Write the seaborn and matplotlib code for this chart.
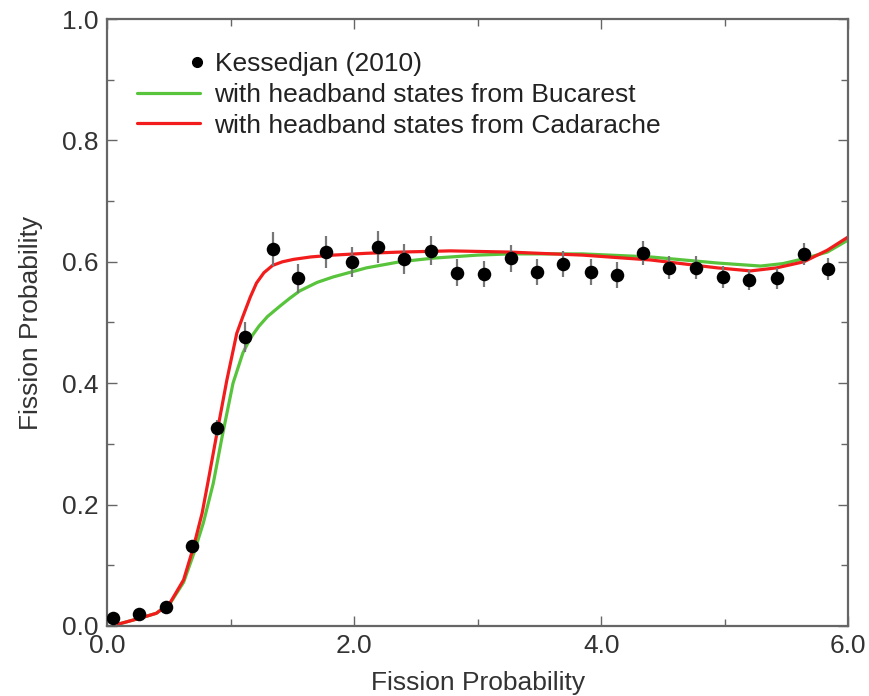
import numpy as np
import pandas as pd
import seaborn as sns
from matplotlib import pyplot as plt
from matplotlib.lines import Line2D
from matplotlib.legend_handler import HandlerLine2DCompound
from matplotlib.ticker import MultipleLocator, FormatStrFormatter

# Kessedjan (2010) measurements
x_exp = [0.05, 0.26, 0.48, 0.69, 0.89, 1.12, 1.34, 1.55, 1.77, 1.98, 2.19, 2.40, 2.62, 2.83,
         3.05, 3.27, 3.48, 3.69, 3.92, 4.13, 4.34, 4.55, 4.77, 4.99, 5.20, 5.42, 5.64, 5.84]
y_exp = [0.013, 0.020, 0.031, 0.131, 0.326, 0.476, 0.621, 0.573, 0.616, 0.600, 0.624, 0.605, 0.618, 0.582,
         0.580, 0.606, 0.583, 0.596, 0.583, 0.578, 0.614, 0.590, 0.590, 0.575, 0.570, 0.573, 0.613, 0.588]
err_exp = [0.004, 0.005, 0.006, 0.008, 0.013, 0.025, 0.028, 0.024, 0.027, 0.025, 0.026, 0.025, 0.024, 0.022,
           0.022, 0.022, 0.021, 0.021, 0.021, 0.021, 0.020, 0.019, 0.019, 0.018, 0.017, 0.017, 0.018, 0.018]

# calculation with headband states from Bucarest
x_buc = [0.09, 0.27, 0.40, 0.51, 0.62, 0.70, 0.78, 0.86, 0.93, 1.02, 1.10, 1.16, 1.23, 1.30, 1.40, 1.48,
         1.56, 1.70, 1.83, 2.10, 2.37, 2.64, 3.00, 3.26, 3.85, 4.40, 4.94, 5.29, 5.47, 5.64, 5.83, 6.00]
y_buc = [0.003, 0.013, 0.021, 0.037, 0.072, 0.118, 0.170, 0.235, 0.310, 0.400, 0.450, 0.474, 0.494, 0.510,
         0.527, 0.540, 0.552, 0.566, 0.575, 0.590, 0.600, 0.606, 0.611, 0.613, 0.613, 0.608, 0.598, 0.593,
         0.597, 0.605, 0.616, 0.636]

# calculation with headband states from Cadarache
x_cad = [0.09, 0.27, 0.40, 0.51, 0.62, 0.70, 0.77, 0.82, 0.89, 0.97, 1.05, 1.10, 1.16, 1.21, 1.27, 1.34,
         1.42, 1.51, 1.65, 1.83, 2.10, 2.37, 2.78, 3.26, 3.85, 4.40, 4.94, 5.21, 5.42, 5.64, 5.83, 6.00]
y_cad = [0.003, 0.013, 0.021, 0.038, 0.076, 0.130, 0.186, 0.240, 0.318, 0.405, 0.482, 0.510, 0.542, 0.565,
         0.582, 0.594, 0.600, 0.604, 0.608, 0.611, 0.614, 0.616, 0.618, 0.616, 0.611, 0.603, 0.590, 0.585,
         0.590, 0.600, 0.619, 0.641]

GREEN = "#58c43c"
RED = "#f21c1c"
FONT = 19

sns.set_style("ticks")
plt.rcParams["font.family"] = ["Liberation Sans", "DejaVu Sans"]

fig = plt.figure(figsize=(8.7, 6.96), dpi=100)
ax = fig.add_axes([0.123, 0.1006, 0.852, 0.8721])

sns.lineplot(x=x_buc, y=y_buc, color=GREEN, lw=2.3, sort=False, estimator=None, ax=ax, zorder=2)
sns.lineplot(x=x_cad, y=y_cad, color=RED, lw=2.3, sort=False, estimator=None, ax=ax, zorder=2)
ax.errorbar(x_exp, y_exp, yerr=err_exp, fmt="none", ecolor="#777777", elinewidth=1.6, capsize=0, zorder=3)
sns.scatterplot(x=x_exp, y=y_exp, color="black", s=95, edgecolor="black", linewidth=0, ax=ax, zorder=4)

ax.set_xlim(0, 6)
ax.set_ylim(0, 1)
ax.xaxis.set_major_locator(MultipleLocator(2))
ax.xaxis.set_minor_locator(MultipleLocator(1))
ax.yaxis.set_major_locator(MultipleLocator(0.2))
ax.yaxis.set_minor_locator(MultipleLocator(0.1))
ax.xaxis.set_major_formatter(FormatStrFormatter("%.1f"))
ax.yaxis.set_major_formatter(FormatStrFormatter("%.1f"))
ax.tick_params(which="both", direction="in", top=True, right=True, colors="#666666",
               labelcolor="#333333", labelsize=FONT, width=1.0)
ax.tick_params(which="major", length=7, pad=6)
ax.tick_params(which="minor", length=5)
for sp in ax.spines.values():
    sp.set_color("#666666")
    sp.set_linewidth(1.6)

ax.set_xlabel("Fission Probability", fontsize=FONT, color="#333333", labelpad=9)
ax.set_ylabel("Fission Probability", fontsize=FONT, color="#333333", labelpad=14)


class RightMarker(HandlerLine2DCompound):
    def get_xdata(self, legend, xdescent, ydescent, width, height, fontsize):
        xdata = np.array([-xdescent, -xdescent + width])
        return xdata, np.array([-xdescent + 0.96 * width])


handles = [
    Line2D([], [], ls="none", marker="o", color="black", ms=7),
    Line2D([], [], color=GREEN, lw=2.3),
    Line2D([], [], color=RED, lw=2.3),
]
labels = ["Kessedjan (2010)", "with headband states from Bucarest", "with headband states from Cadarache"]
leg = ax.legend(handles, labels, loc="upper left", bbox_to_anchor=(0.04, 0.945), frameon=False,
                fontsize=FONT, handlelength=2.4, handletextpad=0.55, labelspacing=0.25,
                borderpad=0, borderaxespad=0, handler_map={handles[0]: RightMarker(numpoints=1)})
for t in leg.get_texts():
    t.set_color("#222222")

fig.savefig("out.png", dpi=100)
